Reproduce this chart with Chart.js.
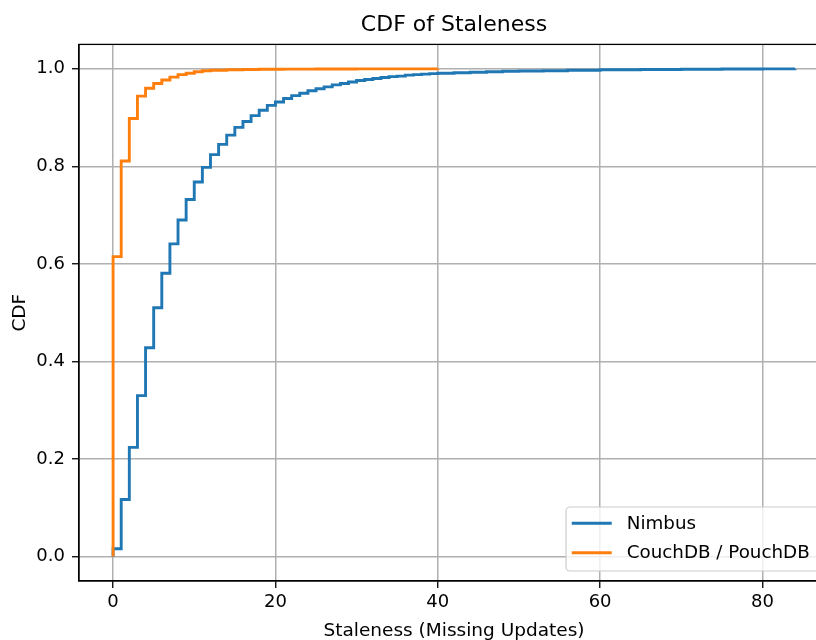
<!DOCTYPE html>
<html>
<head>
<meta charset="utf-8">
<script src="https://cdn.jsdelivr.net/npm/chart.js@4.4.1/dist/chart.umd.min.js"></script>
<style>
  html, body { margin: 0; padding: 0; overflow: hidden; background: #fff; width: 816px; height: 640px; }
  #wrap { position: absolute; left: 0; top: 0; width: 850px; height: 660px; }
</style>
</head>
<body>
<div id="wrap"><canvas id="c" width="850" height="660"></canvas></div>
<script>
// ---- data ----
const nimbusX = [0, 0, 1, 2, 3, 4, 5, 6, 7, 8, 9, 10, 11, 12, 13, 14, 15, 16, 17, 18, 19, 20,
  21, 22, 23, 24, 25, 26, 27, 28, 29, 30, 31, 32, 33, 34, 35, 36, 37, 38, 39, 40,
  42, 44, 46, 48, 50, 53, 56, 60, 65, 70, 75, 80, 84];
const nimbusCdf = [0, 0.016, 0.117, 0.224, 0.330, 0.428, 0.510, 0.581, 0.641, 0.690, 0.732, 0.768, 0.798, 0.824, 0.845, 0.864, 0.880, 0.892, 0.904, 0.915, 0.925, 0.932,
  0.939, 0.945, 0.950, 0.955, 0.959, 0.963, 0.967, 0.970, 0.973, 0.976, 0.978, 0.980, 0.982, 0.984, 0.985, 0.987, 0.988, 0.989, 0.990, 0.991,
  0.992, 0.993, 0.994, 0.995, 0.9955, 0.996, 0.997, 0.998, 0.9985, 0.999, 0.9995, 0.9998, 1.0];
const couchX = [0, 0, 1, 2, 3, 4, 5, 6, 7, 8, 9, 10, 11, 12, 14, 16, 18, 21, 25, 30, 40];
const couchCdf = [0, 0.615, 0.811, 0.898, 0.944, 0.960, 0.970, 0.977, 0.983, 0.988, 0.991, 0.994, 0.996, 0.997, 0.998, 0.9985, 0.999, 0.9993, 0.9996, 0.9998, 1.0];
const seriesLabels = ['Nimbus', 'CouchDB / PouchDB'];
const seriesColors = ['#1f77b4', '#ff7f0e'];
const xTicks = [0, 20, 40, 60, 80];
const yTicks = [0, 0.2, 0.4, 0.6, 0.8, 1.0];
const chartTitle = 'CDF of Staleness';
const xTitle = 'Staleness (Missing Updates)';
const yTitle = 'CDF';

const FAM = '"DejaVu Sans", "Liberation Sans", sans-serif';

const toPts = (xs, ys) => xs.map((x, i) => ({ x: x, y: ys[i] }));

const spinePlugin = {
  id: 'spines',
  afterDraw(chart) {
    const { ctx, chartArea: a } = chart;
    ctx.save();
    ctx.strokeStyle = '#000';
    ctx.lineWidth = 1.3;
    ctx.strokeRect(a.left, a.top, a.right - a.left, a.bottom - a.top);
    ctx.restore();
  }
};

const legendPlugin = {
  id: 'innerLegend',
  afterDraw(chart) {
    const { ctx, chartArea: a } = chart;
    ctx.save();
    ctx.font = '18.3px ' + FAM;
    const ds = chart.data.datasets;
    const tw = Math.max(...ds.map(d => ctx.measureText(d.label).width));
    const right = a.right - 9;
    const bottom = a.bottom - 10;
    const w = tw + 71;
    const h = 64;
    const left = right - w;
    const top = bottom - h;
    const r = 4;
    ctx.beginPath();
    ctx.moveTo(left + r, top);
    ctx.lineTo(right - r, top);
    ctx.arcTo(right, top, right, top + r, r);
    ctx.lineTo(right, bottom - r);
    ctx.arcTo(right, bottom, right - r, bottom, r);
    ctx.lineTo(left + r, bottom);
    ctx.arcTo(left, bottom, left, bottom - r, r);
    ctx.lineTo(left, top + r);
    ctx.arcTo(left, top, left + r, top, r);
    ctx.closePath();
    ctx.fillStyle = 'rgba(255,255,255,0.8)';
    ctx.fill();
    ctx.strokeStyle = '#cccccc';
    ctx.lineWidth = 1.2;
    ctx.stroke();
    ds.forEach((d, i) => {
      const y = top + 16.3 + i * 29.4;
      ctx.beginPath();
      ctx.moveTo(left + 5.7, y);
      ctx.lineTo(left + 45.7, y);
      ctx.strokeStyle = d.borderColor;
      ctx.lineWidth = 2.9;
      ctx.stroke();
      ctx.fillStyle = '#000';
      ctx.textAlign = 'left';
      ctx.textBaseline = 'middle';
      ctx.fillText(d.label, left + 60.7, y + 1);
    });
    ctx.restore();
  }
};

new Chart(document.getElementById('c'), {
  type: 'line',
  data: {
    datasets: [
      { label: seriesLabels[0], data: toPts(nimbusX, nimbusCdf), borderColor: seriesColors[0], backgroundColor: seriesColors[0],
        borderWidth: 2.9, pointRadius: 0, stepped: 'before', fill: false, order: 2 },
      { label: seriesLabels[1], data: toPts(couchX, couchCdf), borderColor: seriesColors[1], backgroundColor: seriesColors[1],
        borderWidth: 2.9, pointRadius: 0, stepped: 'before', fill: false, order: 1 }
    ]
  },
  options: {
    responsive: false,
    animation: false,
    devicePixelRatio: 1,
    layout: { padding: { left: 0, right: 21, top: 0, bottom: 0 } },
    plugins: {
      legend: { display: false },
      tooltip: { enabled: false },
      title: {
        display: true, text: chartTitle, fullSize: false, color: '#000',
        font: { family: FAM, size: 22, weight: 'normal' },
        padding: { top: 11.8, bottom: 6.2 }
      }
    },
    scales: {
      x: {
        type: 'linear', min: -4.2, max: 88.2,
        afterBuildTicks: s => { s.ticks = xTicks.map(v => ({ value: v })); },
        afterFit: s => { s.height = 79; },
        ticks: { callback: v => String(v), font: { family: FAM, size: 18 }, color: '#000', padding: 4, maxRotation: 0 },
        grid: { color: '#b0b0b0', lineWidth: 1.5, tickColor: '#000', tickLength: 7, tickWidth: 1.3 },
        border: { display: true, color: '#000', width: 1.3 },
        title: { display: true, text: xTitle, color: '#000', font: { family: FAM, size: 18.5 }, padding: { top: 0, bottom: 17.9 } }
      },
      y: {
        type: 'linear', min: -0.05, max: 1.05,
        afterBuildTicks: s => { s.ticks = yTicks.map(v => ({ value: v })); },
        afterFit: s => { s.width = 79; },
        ticks: { callback: v => Number(v).toFixed(1), font: { family: FAM, size: 18 }, color: '#000', padding: 7 },
        grid: { color: '#b0b0b0', lineWidth: 1.5, tickColor: '#000', tickLength: 7, tickWidth: 1.3 },
        border: { display: true, color: '#000', width: 1.3 },
        title: { display: true, text: yTitle, color: '#000', font: { family: FAM, size: 18.5 }, padding: { top: 9, bottom: 0 } }
      }
    }
  },
  plugins: [spinePlugin, legendPlugin]
});
</script>
</body>
</html>
